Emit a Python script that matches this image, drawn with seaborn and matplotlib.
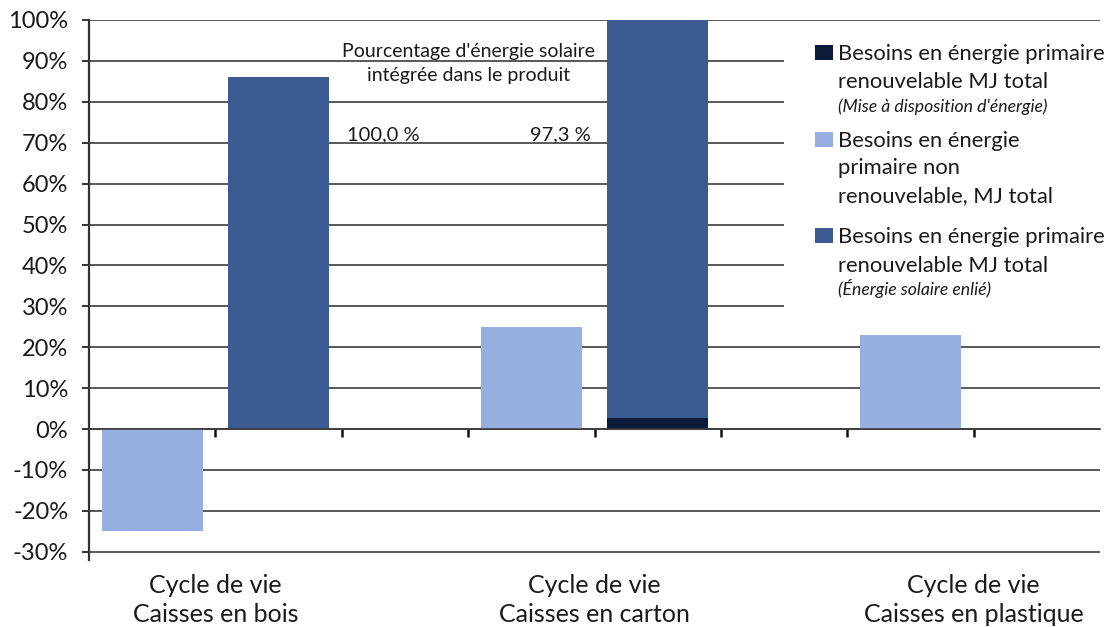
import matplotlib
matplotlib.use("Agg")
import matplotlib.pyplot as plt
from matplotlib.patches import Rectangle
from matplotlib.transforms import blended_transform_factory
import numpy as np
import pandas as pd
import seaborn as sns

# Data (% of total primary energy need)
groups = ["Caisses en bois", "Caisses en carton", "Caisses en plastique"]
group_line1 = "Cycle de vie"
non_renewable = [-25.0, 25.0, 23.0]          # non-renewable primary energy
renew_provision = [0.0, 2.7, 0.0]            # renewable, energy provision
renew_solar = [86.0, 97.3, 0.0]              # renewable, solar energy bound in product
y_ticks = list(range(-30, 101, 10))

series_labels = [
    (["Besoins en énergie primaire", "renouvelable MJ total"], "(Mise à disposition d'énergie)"),
    (["Besoins en énergie", "primaire non", "renouvelable, MJ total"], None),
    (["Besoins en énergie primaire", "renouvelable MJ total"], "(Énergie solaire enlié)"),
]
annot_title = ["Pourcentage d'énergie solaire", "intégrée dans le produit"]

c_light = "#97AFE0"
c_blue = "#3D5B93"
c_navy = "#0B1A3B"
c_text = "#1a1a1a"
c_grid = "#3c3c3c"

sns.set_style("white")
plt.rcParams["font.family"] = ["Lato", "DejaVu Sans"]

# Each group occupies three slots: non-renewable bar, renewable bar, gap
n_slots = 3 * len(groups) - 1
rows = []
for g in range(len(groups)):
    rows.append({"slot": 3 * g, "kind": "nonrenew", "value": non_renewable[g]})
    rows.append({"slot": 3 * g + 1, "kind": "renew_total", "value": renew_solar[g] + renew_provision[g]})
    rows.append({"slot": 3 * g + 1, "kind": "provision", "value": renew_provision[g]})
df = pd.DataFrame(rows)
order = list(range(n_slots))

W, H = 1115, 627
fig = plt.figure(figsize=(W / 100, H / 100), dpi=100)
ax = fig.add_axes([89 / W, 1 - 560 / H, (1100 - 89) / W, (560 - 20) / H])

def fy(py):
    return 1 - py / H

for kind, col in [("nonrenew", c_light), ("renew_total", c_blue), ("provision", c_navy)]:
    sns.barplot(data=df[df.kind == kind], x="slot", y="value", order=order,
                color=col, saturation=1, width=0.8, errorbar=None, ax=ax,
                linewidth=0, edgecolor="none", zorder=2)

ax.set_xlim(-0.5, n_slots - 0.5)
ax.set_ylim(-32, 100)
ax.set_yticks(y_ticks)
ax.set_yticklabels([f"{v}%" for v in y_ticks], fontsize=17, color=c_text)
ax.set_xlabel("")
ax.set_ylabel("")

# horizontal gridlines
for v in y_ticks:
    ax.axhline(v, color=c_grid, lw=1.2, zorder=0.5)

# spines: left axis, bottom axis moved to zero with boundary ticks
for s in ["top", "right"]:
    ax.spines[s].set_visible(False)
ax.spines["left"].set_color("#333333")
ax.spines["left"].set_linewidth(1.6)
ax.spines["bottom"].set_position(("data", 0))
ax.spines["bottom"].set_color(c_grid)
ax.spines["bottom"].set_linewidth(1.2)
ax.set_xticks(np.arange(0.5, n_slots - 0.5, 1.0))
ax.set_xticklabels([])
ax.tick_params(axis="x", bottom=True, direction="out", length=5.5, width=1.8, color="#111111")
ax.tick_params(axis="y", left=True, direction="out", length=5, width=1.4, color="#333333", pad=10)

xfig = blended_transform_factory(ax.transData, fig.transFigure)

# category labels under each group
for g, name in enumerate(groups):
    for line, base in zip([group_line1, name], [593, 621.5]):
        fig.text(3 * g + 0.5, fy(base), line, transform=xfig, ha="center", va="baseline",
                 fontsize=18, color=c_text)

# solar-share annotation
for line, base in zip(annot_title, [56.5, 81.5]):
    fig.text(2.5, fy(base), line, transform=xfig, ha="center", va="baseline",
             fontsize=14, color=c_text)
share = [100.0 * s / (s + p) for s, p in zip(renew_solar[:2], renew_provision[:2])]
fmt = lambda v: f"{v:.1f}".replace(".", ",") + " %"
fig.text(1.54, fy(140), fmt(share[0]), transform=xfig, ha="left", va="baseline",
         fontsize=14.5, color=c_text)
fig.text(3.47, fy(140), fmt(share[1]), transform=xfig, ha="right", va="baseline",
         fontsize=14.5, color=c_text)

# hand-built legend on a white panel
fig.patches.append(Rectangle((784 / W, fy(322)), (1110 - 784) / W, (322 - 24) / H,
                             transform=fig.transFigure, facecolor="white", edgecolor="none", zorder=1))
legend_cols = [c_navy, c_light, c_blue]
line_bases = [[60, 88.3], [146.7, 174, 201.7], [243.3, 271.7]]
sub_bases = [112, None, 295]
for (main, sub), col, bases, sb in zip(series_labels, legend_cols, line_bases, sub_bases):
    fig.patches.append(Rectangle((815 / W, fy(bases[0])), 18 / W, 15 / H,
                                 transform=fig.transFigure, facecolor=col, edgecolor="none", zorder=2))
    for line, b in zip(main, bases):
        fig.text(838 / W, fy(b), line, ha="left", va="baseline", fontsize=15.8,
                 color=c_text, zorder=3)
    if sub:
        fig.text(838 / W, fy(sb), sub, ha="left", va="baseline", fontsize=12.7,
                 style="italic", color=c_text, zorder=3)

fig.savefig("out.png", dpi=100, facecolor="white")
